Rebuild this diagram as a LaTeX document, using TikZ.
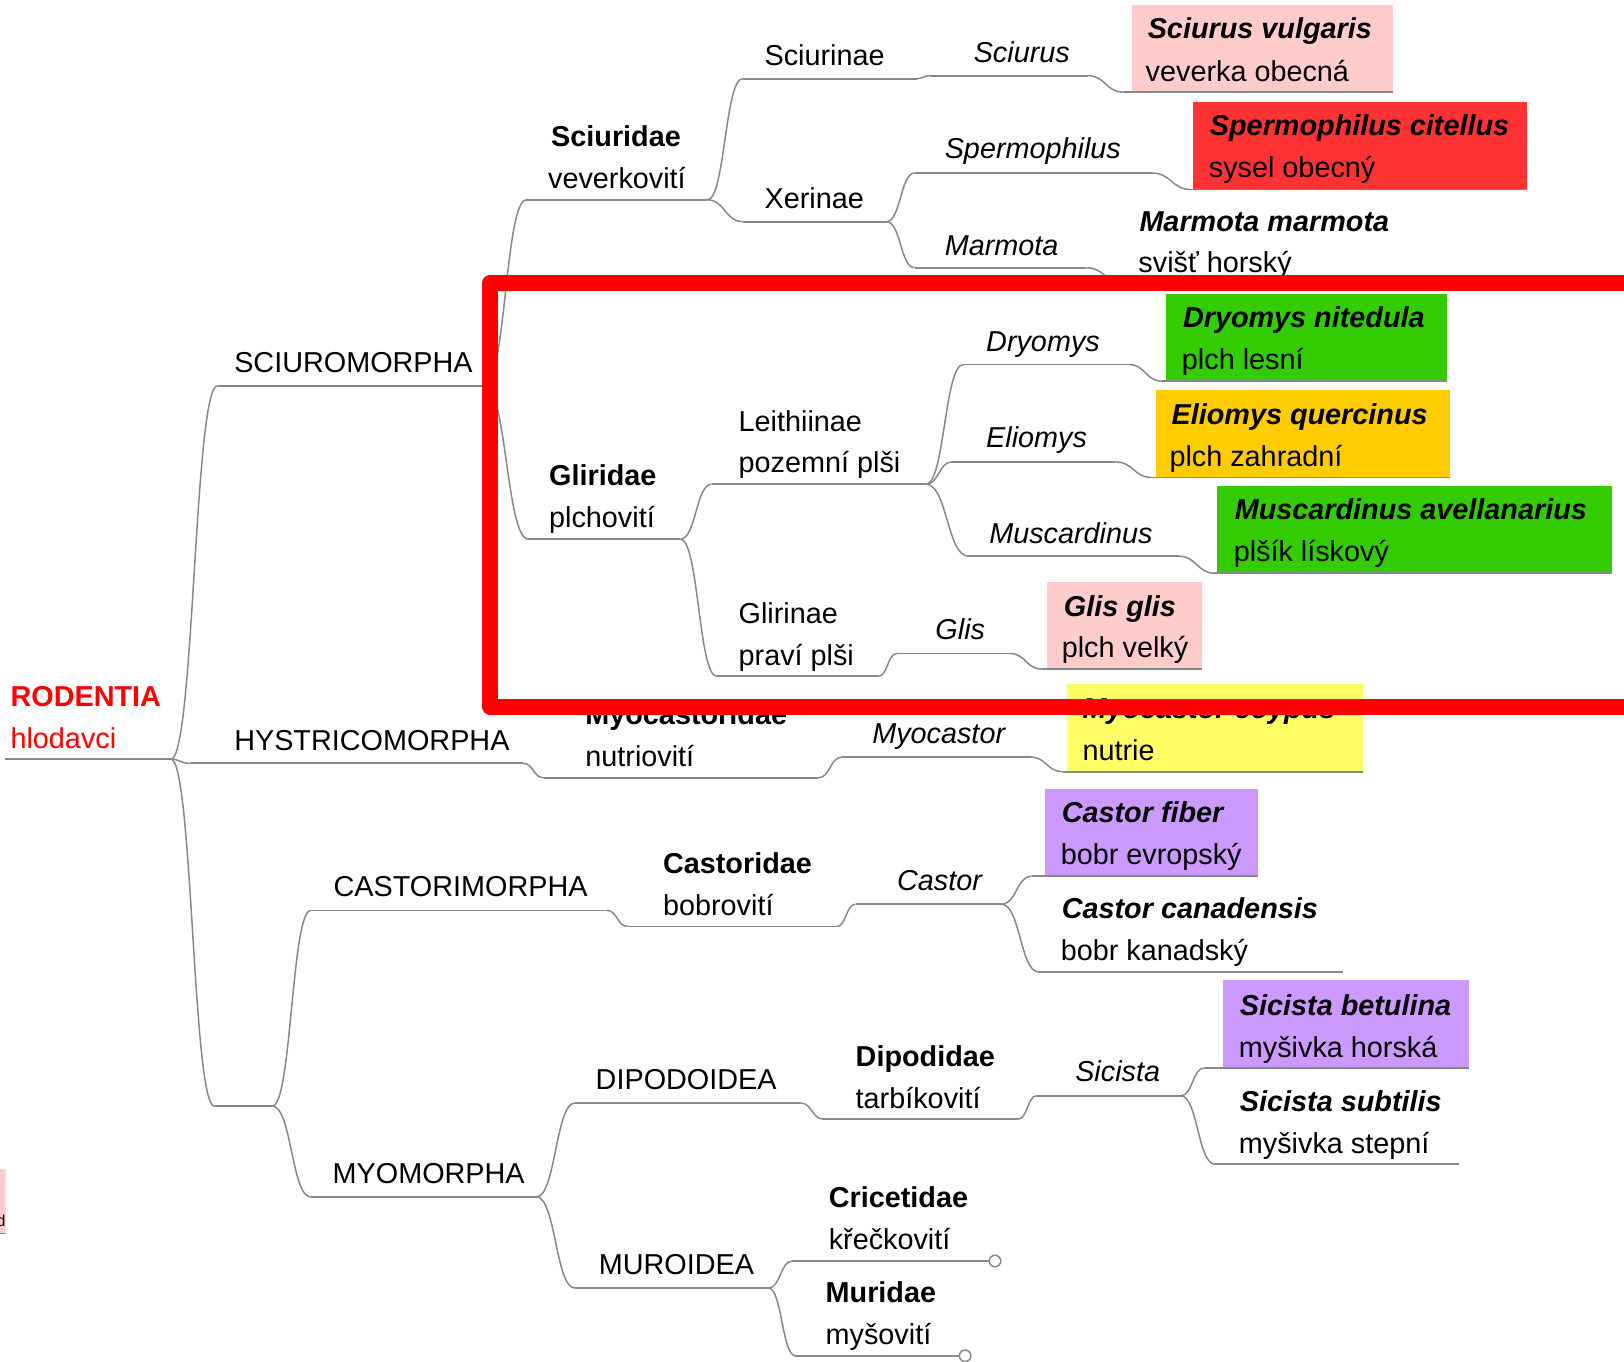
\documentclass[tikz,border=0pt]{standalone}
\usepackage{fontspec}
\setmainfont{Liberation Sans}
\usetikzlibrary{calc}
\definecolor{lg}{HTML}{888888}
\definecolor{cpink}{HTML}{FFCCCC}
\definecolor{cred}{HTML}{FF3333}
\definecolor{cgreen}{HTML}{33CC00}
\definecolor{corange}{HTML}{FFCC00}
\definecolor{cyellow}{HTML}{FFFF66}
\definecolor{cpurple}{HTML}{CC99FF}
\definecolor{hl}{HTML}{FF0000}
\newcommand\mmline[4]{\coordinate (#1L) at (#2,#4); \coordinate (#1R) at (#3,#4); \draw[uline] (#1L) -- (#1R);}
\newcommand\mmedge[2]{\draw[edge] let \p1=(#1R), \p2=(#2L) in (#1R) .. controls ({0.5*(\x1+\x2)},\y1) and ({0.5*(\x1+\x2)},\y2) .. (#2L);}
\newcommand\mmbox[5]{\path[fill=#5] (#2,{#4-84.5}) rectangle (#3,#4);}
\begin{document}
\begin{tikzpicture}[x=1.035714pt,y=-1.035714pt,
  edge/.style={draw=lg,line width=1.5pt},
  uline/.style={draw=lg,line width=1.8pt},
  tx/.style={anchor=base west,inner sep=0pt,yshift=-1.6pt,font=\fontsize{28.8}{34}\selectfont},
  tb/.style={tx,font=\fontsize{28.8}{34}\selectfont\bfseries},
  ti/.style={tx,font=\fontsize{28.8}{34}\selectfont\itshape},
  tbi/.style={tx,font=\fontsize{28.8}{34}\selectfont\bfseries\itshape},
  endcirc/.style={circle,draw=lg,line width=1.5pt,fill=white,inner sep=0pt,minimum size=11.5pt}]
\useasboundingbox (0,0) rectangle (1568,1315);
\clip (0,0) rectangle (1568,1315);
% boxes
\mmbox{svb}{1093}{1345}{89}{cpink}
\mmbox{spc}{1152}{1474}{183}{cred}
\mmbox{dnb}{1126}{1397}{368}{cgreen}
\mmbox{eqb}{1116}{1400}{461}{corange}
\mmbox{mab}{1175}{1556}{553.5}{cgreen}
\mmbox{ggb}{1011}{1161}{646}{cpink}
\mmbox{mcb}{1030}{1316}{745}{cyellow}
\mmbox{cfb}{1009}{1215}{846}{cpurple}
\mmbox{sbb}{1181}{1418}{1031}{cpurple}
% underlines
\mmline{root}{5}{165}{733}
\mmline{sci}{210}{468}{372.5}
\mmline{hys}{183}{505}{737}
\mmline{nn}{207}{263}{1068}
\mmline{cas}{300}{586}{879}
\mmline{myo}{300}{518}{1155.6}
\mmline{scd}{508}{683}{193}
\mmline{gli}{510}{657}{520.5}
\mmline{scn}{717}{885}{76}
\mmline{xer}{717}{856}{214}
\mmline{scs}{898}{1050}{73}
\mmline{svb}{1085}{1345}{89}
\mmline{spe}{883}{1112}{167}
\mmline{spc}{1150}{1474}{183}
\mmline{mar}{883}{1049}{258.5}
\mmline{mmm}{1085}{1340}{274}
\mmline{lei}{687}{894}{467.5}
\mmline{glr}{692}{848}{653}
\mmline{dry}{930}{1090}{352}
\mmline{dnb}{1122}{1397}{368}
\mmline{eli}{919}{1077}{446}
\mmline{eqb}{1112}{1400}{461}
\mmline{mus}{935}{1138}{537}
\mmline{mab}{1173}{1556}{553.5}
\mmline{gls}{866}{975}{631}
\mmline{ggb}{1006}{1161}{646}
\mmline{myc}{525}{790}{751}
\mmline{mys}{813}{995}{731}
\mmline{mcb}{1026}{1316}{745}
\mmline{csd}{606}{808}{894.5}
\mmline{cst}{826}{967}{873}
\mmline{cfb}{996}{1215}{846}
\mmline{ccn}{1003}{1297}{938.5}
\mmline{dip}{555}{773}{1065}
\mmline{mur}{555}{742}{1243.6}
\mmline{dpd}{795}{983}{1080.5}
\mmline{sic}{1001}{1140}{1058}
\mmline{sbb}{1163}{1418}{1031}
\mmline{ssb}{1173}{1409}{1124}
\mmline{cri}{765}{955}{1217.5}
\mmline{mrd}{768}{926}{1309}
% connectors
\mmedge{root}{sci}\mmedge{root}{hys}\mmedge{root}{nn}
\mmedge{nn}{cas}\mmedge{nn}{myo}
\mmedge{sci}{scd}\mmedge{sci}{gli}
\mmedge{scd}{scn}\mmedge{scd}{xer}
\mmedge{scn}{scs}\mmedge{scs}{svb}
\mmedge{xer}{spe}\mmedge{xer}{mar}
\mmedge{spe}{spc}\mmedge{mar}{mmm}
\mmedge{gli}{lei}\mmedge{gli}{glr}
\mmedge{lei}{dry}\mmedge{lei}{eli}\mmedge{lei}{mus}
\mmedge{dry}{dnb}\mmedge{eli}{eqb}\mmedge{mus}{mab}
\mmedge{glr}{gls}\mmedge{gls}{ggb}
\mmedge{hys}{myc}\mmedge{myc}{mys}\mmedge{mys}{mcb}
\mmedge{cas}{csd}\mmedge{csd}{cst}\mmedge{cst}{cfb}\mmedge{cst}{ccn}
\mmedge{myo}{dip}\mmedge{myo}{mur}
\mmedge{dip}{dpd}\mmedge{dpd}{sic}\mmedge{sic}{sbb}\mmedge{sic}{ssb}
\mmedge{mur}{cri}\mmedge{mur}{mrd}
\node[endcirc] (cricirc) at (960.7,1217.5) {};
\node[endcirc] (mrdcirc) at (931.8,1309) {};
% texts
\node[tb,text=hl] (t-root1) at (10,681) {RODENTIA};
\node[tx,text=hl] (t-root2) at (10,721) {hlodavci};
\node[tx] (t-sci) at (226,358) {SCIUROMORPHA};
\node[tx] (t-hys) at (226,723) {HYSTRICOMORPHA};
\node[tx] (t-cas) at (322,864.5) {CASTORIMORPHA};
\node[tx] (t-myo) at (321,1141.5) {MYOMORPHA};
\node[tx] (t-dip) at (575,1050) {DIPODOIDEA};
\node[tx] (t-mur) at (578,1229) {MUROIDEA};
\node[tb] (t-scd1) at (532,140) {Sciuridae};
\node[tx] (t-scd2) at (529,180.5) {veverkovití};
\node[tb] (t-gli1) at (530,467.5) {Gliridae};
\node[tx] (t-gli2) at (530,508) {plchovití};
\node[tx] (t-scn) at (738,62) {Sciurinae};
\node[tx] (t-xer) at (738,200) {Xerinae};
\node[ti] (t-scs) at (940,58.5) {Sciurus};
\node[ti] (t-spe) at (912,151.5) {Spermophilus};
\node[ti] (t-mar) at (912,245) {Marmota};
\node[tbi] (t-svb1) at (1108,36) {Sciurus vulgaris};
\node[tx] (t-svb2) at (1106,77) {veverka obecná};
\node[tbi] (t-spc1) at (1168,129.5) {Spermophilus citellus};
\node[tx] (t-spc2) at (1167,170) {sysel obecný};
\node[tbi] (t-mmm1) at (1100,222) {Marmota marmota};
\node[tx] (t-mmm2) at (1099,261.5) {svišť horský};
\node[tx] (t-lei1) at (713,415) {Leithiinae};
\node[tx] (t-lei2) at (713,455) {pozemní plši};
\node[tx] (t-glr1) at (713,600.5) {Glirinae};
\node[tx] (t-glr2) at (713,641) {praví plši};
\node[ti] (t-dry) at (952,337.5) {Dryomys};
\node[ti] (t-eli) at (952,430.5) {Eliomys};
\node[ti] (t-mus) at (955,523) {Muscardinus};
\node[tbi] (t-dnb1) at (1142,315) {Dryomys nitedula};
\node[tx] (t-dnb2) at (1141,355.5) {plch lesní};
\node[tbi] (t-eqb1) at (1131,408) {Eliomys quercinus};
\node[tx] (t-eqb2) at (1129,448.5) {plch zahradní};
\node[tbi] (t-mab1) at (1192,500.5) {Muscardinus avellanarius};
\node[tx] (t-mab2) at (1191,541) {plšík lískový};
\node[ti] (t-gls) at (903,616) {Glis};
\node[tbi] (t-ggb1) at (1027,593.5) {Glis glis};
\node[tx] (t-ggb2) at (1025,633.5) {plch velký};
\node[tb] (t-myc1) at (565,698) {Myocastoridae};
\node[tx] (t-myc2) at (565,738.5) {nutriovití};
\node[ti] (t-mys) at (842,716) {Myocastor};
\node[tbi] (t-mcb1) at (1045,692) {Myocastor coypus};
\node[tx] (t-mcb2) at (1045,732.5) {nutrie};
\node[tb] (t-csd1) at (640,842) {Castoridae};
\node[tx] (t-csd2) at (640,882.5) {bobrovití};
\node[ti] (t-cst) at (866,858) {Castor};
\node[tbi] (t-cfb1) at (1025,793) {Castor fiber};
\node[tx] (t-cfb2) at (1024,833.5) {bobr evropský};
\node[tbi] (t-ccn1) at (1025,885.5) {Castor canadensis};
\node[tx] (t-ccn2) at (1024,926) {bobr kanadský};
\node[tb] (t-dpd1) at (826,1028) {Dipodidae};
\node[tx] (t-dpd2) at (826,1068.5) {tarbíkovití};
\node[ti] (t-sic) at (1038,1043) {Sicista};
\node[tbi] (t-sbb1) at (1197,978.5) {Sicista betulina};
\node[tx] (t-sbb2) at (1196,1019) {myšivka horská};
\node[tbi] (t-ssb1) at (1197,1071.5) {Sicista subtilis};
\node[tx] (t-ssb2) at (1196,1112) {myšivka stepní};
\node[tb] (t-cri1) at (800,1164) {Cricetidae};
\node[tx] (t-cri2) at (800,1205) {křečkovití};
\node[tb] (t-mrd1) at (797,1256.5) {Muridae};
\node[tx] (t-mrd2) at (797,1297) {myšovití};
% clipped fragment at the left edge
\begin{scope}
\clip (0,1120) rectangle (5.5,1200);
\fill[cpink] (0,1129) rectangle (5.5,1191);
\draw[uline] (0,1191) -- (5.5,1191);
\node[anchor=base east,inner sep=0pt,font=\fontsize{16}{18}\selectfont] (frag) at (5.5,1184) {d};
\end{scope}
% highlight frame
\draw[hl,line width=16pt,line join=round] (473.5,273) rectangle (1700,682.5);
\end{tikzpicture}
\end{document}
